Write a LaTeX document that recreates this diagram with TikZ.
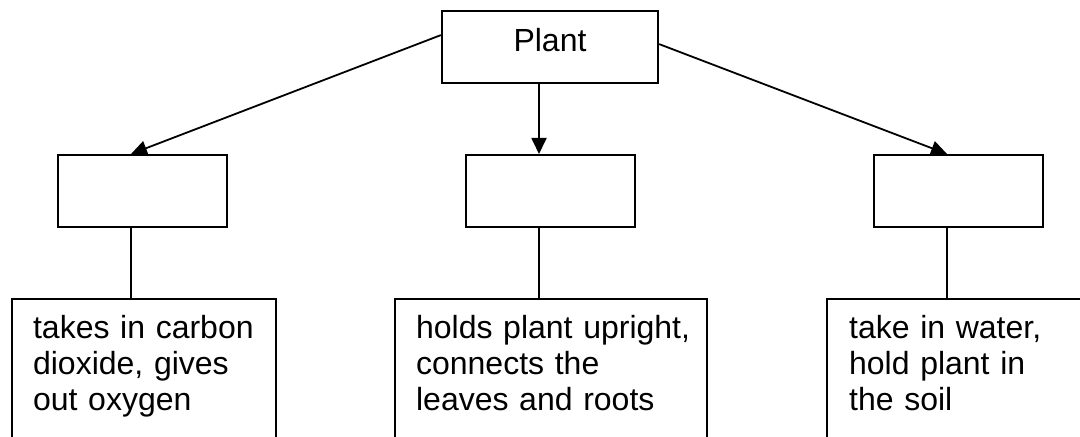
\documentclass[tikz,border=0pt]{standalone}
\usepackage{fontspec}
\setmainfont{Liberation Sans}
\usetikzlibrary{arrows.meta, positioning, calc}

\begin{document}
\begin{tikzpicture}
  [
    x=0.5pt, y=-0.5pt,
    font=\fontsize{16pt}{18pt}\selectfont,
    Box/.style={rectangle, draw=black, line width=1.1pt, inner sep=0pt},
    Top/.style={Box, minimum width=108pt, text height=20pt, text depth=16pt, anchor=north},
    Blank/.style={Box, minimum width=84.5pt, minimum height=36pt, anchor=north},
    Info/.style={Box, anchor=north west, align=left, inner xsep=10.5pt, inner ysep=0pt,
      text height=19.5pt, text depth=100pt},
    Arrow/.style={-{Triangle[length=8pt, width=7.5pt]}, draw, line width=0.9pt},
    Line/.style={draw, line width=0.9pt}
  ]
  \useasboundingbox (0,0) rectangle (1080,437);
  % Nodes
  \node[Top] (plant) at (550,10) {Plant};
  \node[Blank] (leaf) at (142.5,154) {};
  \node[Blank] (stem) at (550.5,154) {};
  \node[Blank] (root) at (958.5,154) {};
  \node[Info, text width=111pt] (leafinfo) at (11,298)
    {takes in carbon\\dioxide, gives\\out oxygen};
  \node[Info, text width=135pt, inner xsep=10.5pt] (steminfo) at (394,298)
    {\mbox{holds plant upright,}\\connects the\\leaves and roots};
  \node[Info, text width=130pt, inner xsep=11pt] (rootinfo) at (826,298)
    {take in water,\\hold plant in\\the soil};
  % Lines
  \path [Arrow] ([yshift=6pt]plant.west) -- ([xshift=-5.75pt]leaf.north);
  \path [Arrow] ([xshift=-5.75pt]stem.north |- plant.south) -- ([xshift=-5.75pt]stem.north);
  \path [Arrow] ([yshift=1.5pt]plant.east) -- ([xshift=-5.75pt]root.north);
  \path [Line] ([xshift=-5.75pt]leaf.south) -- ([xshift=-5.75pt]leaf.south |- leafinfo.north);
  \path [Line] ([xshift=-5.75pt]stem.south) -- ([xshift=-5.75pt]stem.south |- steminfo.north);
  \path [Line] ([xshift=-5.75pt]root.south) -- ([xshift=-5.75pt]root.south |- rootinfo.north);
\end{tikzpicture}
\end{document}
